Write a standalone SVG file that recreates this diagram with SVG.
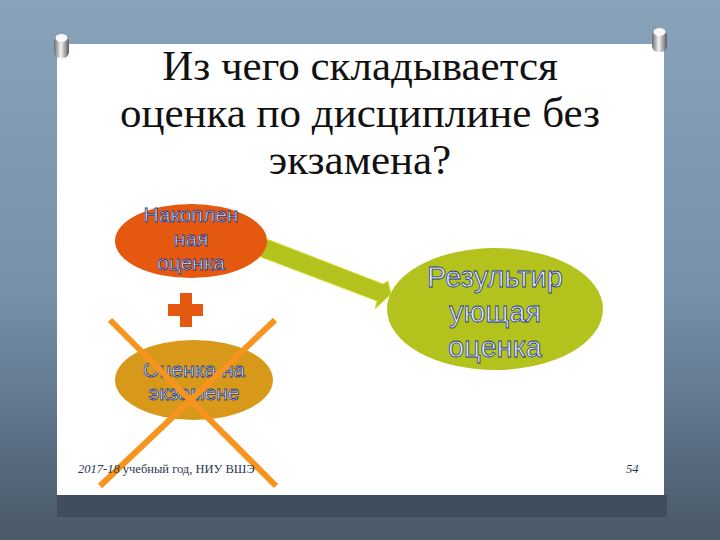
<svg xmlns="http://www.w3.org/2000/svg" width="720" height="540" viewBox="0 0 720 540">
<defs>
<linearGradient id="bg" x1="0" y1="0" x2="0" y2="1">
<stop offset="0" stop-color="#88a2ba"/>
<stop offset="0.55" stop-color="#7590a8"/>
<stop offset="0.8" stop-color="#5c7186"/>
<stop offset="1" stop-color="#4a5867"/>
</linearGradient>
<linearGradient id="pin" x1="0" y1="0" x2="1" y2="0">
<stop offset="0" stop-color="#6a6a6a"/>
<stop offset="0.45" stop-color="#f4f4f4"/>
<stop offset="1" stop-color="#5a5a5a"/>
</linearGradient>
<style>
.title{font-family:"Liberation Serif",serif;font-size:43px;fill:#111;text-anchor:middle}
.lbl{font-family:"Liberation Sans",Arial,sans-serif;fill:#e4ecf8;stroke:#23398a;stroke-width:0.8;text-anchor:middle}
.foot{font-family:"Liberation Serif",serif;font-size:12.5px;fill:#2a3550}
</style>
</defs>
<rect width="720" height="540" fill="url(#bg)"/>
<rect x="57" y="495" width="610" height="22" fill="#3b4957" opacity="0.8"/>
<rect x="57" y="44" width="607" height="451" fill="#ffffff"/>
<g id="pins">
<rect x="54" y="36" width="15" height="22" rx="6" fill="url(#pin)"/>
<ellipse cx="61.5" cy="38" rx="6" ry="4" fill="#f8f8f8"/>
<rect x="652" y="30" width="15" height="22" rx="6" fill="url(#pin)"/>
<ellipse cx="659.5" cy="32" rx="6" ry="4" fill="#f8f8f8"/>
</g>
<g id="title">
<text class="title" x="360" y="80">Из чего складывается</text>
<text class="title" x="360" y="127">оценка по дисциплине без</text>
<text class="title" x="360" y="174">экзамена?</text>
</g>
<g id="connectors">
<path d="M259,236 L383,284 L388,281 L391,294 L375,309 L377,301 L253,254 Z" fill="#b3c21c" stroke="#d8e23a" stroke-width="1"/>
</g>
<g id="node-accum">
<ellipse cx="191" cy="241" rx="76" ry="37" fill="#e5580f"/>
<text class="lbl" font-size="21" x="191" y="222">Накоплен</text>
<text class="lbl" font-size="21" x="191" y="246">ная</text>
<text class="lbl" font-size="21" x="191" y="270">оценка</text>
</g>
<g id="plus">
<rect x="168" y="304" width="35" height="12" fill="#e5580f"/>
<rect x="180" y="293" width="12" height="34" fill="#e5580f"/>
</g>
<g id="node-exam">
<ellipse cx="194" cy="380" rx="79" ry="40" fill="#d8991a"/>
<text class="lbl" font-size="21" x="194" y="377">Оценка на</text>
<text class="lbl" font-size="21" x="194" y="400">экзамене</text>
</g>
<g id="cross" stroke="#f7941d" stroke-width="6" stroke-linecap="butt">
<line x1="110" y1="320" x2="276" y2="486"/>
<line x1="275" y1="320" x2="100" y2="486"/>
</g>
<g id="node-result">
<ellipse cx="495" cy="309" rx="108" ry="61" fill="#b3c21c"/>
<text class="lbl" font-size="29" x="495" y="287">Результир</text>
<text class="lbl" font-size="29" x="495" y="322">ующая</text>
<text class="lbl" font-size="29" x="495" y="357">оценка</text>
</g>
<g id="footer">
<text class="foot" x="78" y="473"><tspan font-style="italic">2017-18</tspan> учебный год, НИУ ВШЭ</text>
<text class="foot" x="626" y="473" font-style="italic">54</text>
</g>
</svg>
